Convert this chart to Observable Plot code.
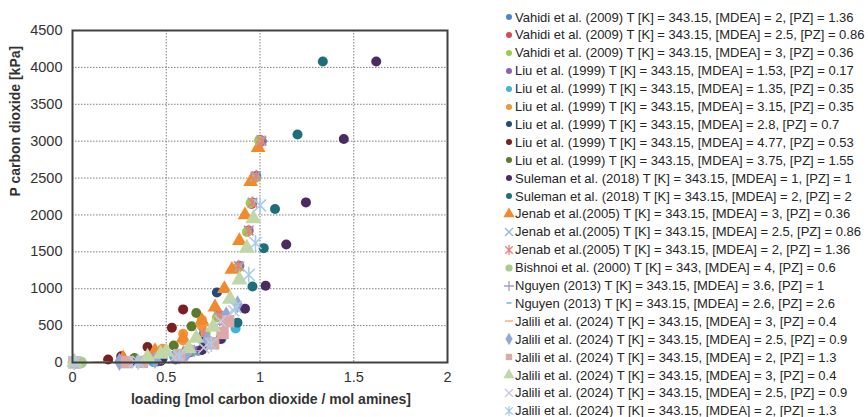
<!DOCTYPE html>
<html><head><meta charset="utf-8">
<script src="https://cdn.jsdelivr.net/npm/d3@7"></script>
<script src="https://cdn.jsdelivr.net/npm/@observablehq/plot@0.6"></script>
<style>
body{margin:0;background:#fff;font-family:"Liberation Sans",Arial,sans-serif;}
#wrap{position:relative;width:868px;height:417px;overflow:hidden;background:#fff;}
#chart{position:absolute;left:0;top:0;}
.row{position:absolute;left:503px;height:18px;display:flex;align-items:center;white-space:nowrap;font-size:13px;color:#262626;}
.row svg{width:12px;height:14px;flex:none;overflow:visible;}
</style></head><body><div id="wrap"><div id="chart"></div><div id="legend"></div></div>
<script>
// ---- data ----
const xTicks = [0, 0.5, 1, 1.5, 2];
const yTicks = [0, 500, 1000, 1500, 2000, 2500, 3000, 3500, 4000, 4500];
const xTickLabels = ["0", "0.5", "1", "1.5", "2"];
const xTitle = "loading [mol carbon dioxide / mol amines]";
const yTitle = "P carbon dioxide [kPa]";

const labels = [
  "Vahidi et al. (2009) T [K] = 343.15, [MDEA] = 2, [PZ] = 1.36",
  "Vahidi et al. (2009) T [K] = 343.15, [MDEA] = 2.5, [PZ] = 0.86",
  "Vahidi et al. (2009) T [K] = 343.15, [MDEA] = 3, [PZ] = 0.36",
  "Liu et al. (1999) T [K] = 343.15, [MDEA] = 1.53, [PZ] = 0.17",
  "Liu et al. (1999) T [K] = 343.15, [MDEA] = 1.35, [PZ] = 0.35",
  "Liu et al. (1999) T [K] = 343.15, [MDEA] = 3.15, [PZ] = 0.35",
  "Liu et al. (1999) T [K] = 343.15, [MDEA] = 2.8, [PZ] = 0.7",
  "Liu et al. (1999) T [K] = 343.15, [MDEA] = 4.77, [PZ] = 0.53",
  "Liu et al. (1999) T [K] = 343.15, [MDEA] = 3.75, [PZ] = 1.55",
  "Suleman et al. (2018) T [K] = 343.15, [MDEA] = 1, [PZ] = 1",
  "Suleman et al. (2018) T [K] = 343.15, [MDEA] = 2, [PZ] = 2",
  "Jenab et al.(2005) T [K] = 343.15, [MDEA] = 3, [PZ] = 0.36",
  "Jenab et al.(2005) T [K] = 343.15, [MDEA] = 2.5, [PZ] = 0.86",
  "Jenab et al.(2005) T [K] = 343.15, [MDEA] = 2, [PZ] = 1.36",
  "Bishnoi et al. (2000) T [K] = 343, [MDEA] = 4, [PZ] = 0.6",
  "Nguyen (2013) T [K] = 343.15, [MDEA] = 3.6, [PZ] = 1",
  "Nguyen (2013) T [K] = 343.15, [MDEA] = 2.6, [PZ] = 2.6",
  "Jalili et al. (2024) T [K] = 343.15, [MDEA] = 3, [PZ] = 0.4",
  "Jalili et al. (2024) T [K] = 343.15, [MDEA] = 2.5, [PZ] = 0.9",
  "Jalili et al. (2024) T [K] = 343.15, [MDEA] = 2, [PZ] = 1.3",
  "Jalili et al. (2024) T [K] = 343.15, [MDEA] = 3, [PZ] = 0.4",
  "Jalili et al. (2024) T [K] = 343.15, [MDEA] = 2.5, [PZ] = 0.9",
  "Jalili et al. (2024) T [K] = 343.15, [MDEA] = 2, [PZ] = 1.3"
];

// [loading, P kPa]
const vahidiA = [[0.27,6],[0.44,35],[0.60,140],[0.70,390],[0.78,640],[0.89,1310],[0.94,1790],[0.96,2170],[0.98,2530],[1.01,3000]];
const vahidiB = [[0.28,7],[0.46,45],[0.62,160],[0.705,380],[0.775,620],[0.885,1290],[0.935,1780],[0.955,2150],[0.97,2510],[1.0,3020]];
const vahidiC = [[0.30,8],[0.48,55],[0.63,175],[0.71,395],[0.77,610],[0.88,1280],[0.93,1770],[0.95,2160],[0.975,2500],[0.995,3010]];
const liuA = [[0.45,12],[0.55,40],[0.63,140],[0.67,160],[0.69,175]];
const liuB = [[0.43,8],[0.54,90],[0.70,210],[0.795,320],[0.87,460]];
const liuC = [[0.26,40],[0.43,150],[0.48,185],[0.59,300],[0.59,390],[0.69,490],[0.69,580]];
const liuD = [[0.32,20],[0.48,55],[0.61,150],[0.70,280],[0.77,950]];
const liuE = [[0.19,40],[0.26,85],[0.40,210],[0.53,470],[0.59,720]];
const liuF = [[0.33,60],[0.45,110],[0.54,230],[0.635,490],[0.66,670]];
const sulemanA = [[0.30,5],[0.47,20],[0.60,95],[0.69,170],[0.79,320],[0.92,730],[1.03,1040],[1.14,1600],[1.245,2170],[1.447,3030],[1.62,4080]];
const sulemanB = [[0.27,5],[0.45,30],[0.60,120],[0.75,270],[0.88,540],[0.96,1030],[1.02,1550],[1.08,2080],[1.2,3090],[1.335,4080]];
const jenabA = [[0.27,60],[0.44,160],[0.59,330],[0.69,570],[0.76,750],[0.81,1000],[0.85,1260],[0.89,1650],[0.92,2000],[0.95,2450],[0.99,2910]];
const jenabB = [[0.29,8],[0.46,48],[0.615,165],[0.70,385],[0.78,630],[0.89,1300],[0.94,1790],[0.96,2160],[0.975,2520],[1.005,3010]];
const jenabC = [[0.27,6],[0.45,40],[0.61,150],[0.70,390],[0.78,640],[0.885,1310],[0.94,1785],[0.96,2170],[0.98,2530],[1.01,3000]];
const bishnoi = [[0.015,0.2],[0.025,0.4],[0.035,0.8],[0.045,1.5]];
const nguyenA = [[0.26,12],[0.40,30],[0.55,90],[0.65,160],[0.72,290],[0.80,520]];
const nguyenB = [[0.42,6],[0.56,35],[0.66,110],[0.74,240]];
const jaliliA = [[0.01,0],[0.14,2],[0.16,4],[0.30,10]];
const jaliliB = [[0.25,8],[0.44,35],[0.61,130],[0.72,310],[0.82,640],[0.88,790]];
const jaliliC = [[0.01,1],[0.29,5],[0.37,8],[0.57,100],[0.75,260],[0.80,400],[0.83,560]];
const jaliliD = [[0.01,5],[0.40,75],[0.47,115],[0.50,145],[0.62,190],[0.66,330],[0.75,480],[0.84,860],[0.89,1120],[0.93,1550],[0.965,1950]];
const jaliliE = [[0.01,2],[0.33,10],[0.54,60],[0.70,200],[0.79,560],[0.86,700]];
const jaliliF = [[0.01,3],[0.35,10],[0.57,80],[0.74,250],[0.87,750],[0.94,1190],[0.976,1620],[1.0,2130]];

const seriesData = [vahidiA, vahidiB, vahidiC, liuA, liuB, liuC, liuD, liuE, liuF,
  sulemanA, sulemanB, jenabA, jenabB, jenabC, bishnoi, nguyenA, nguyenB,
  jaliliA, jaliliB, jaliliC, jaliliD, jaliliE, jaliliF];

// ---- styles ----
const dash = {draw(c, s){const r=Math.sqrt(s/Math.PI); c.moveTo(-r,0); c.lineTo(r,0);}};
const times = {draw(c, s){const r=Math.sqrt(s/Math.PI)*0.8; c.moveTo(-r,-r); c.lineTo(r,r); c.moveTo(-r,r); c.lineTo(r,-r);}};
const plus = {draw(c, s){const r=Math.sqrt(s/Math.PI); c.moveTo(-r,0); c.lineTo(r,0); c.moveTo(0,-r); c.lineTo(0,r);}};
const star = {draw(c, s){const r=Math.sqrt(s/Math.PI); const d=r*0.75; c.moveTo(0,-r); c.lineTo(0,r); c.moveTo(-d,-d); c.lineTo(d,d); c.moveTo(-d,d); c.lineTo(d,-d);}};

const styles = [
  {color:"#4a86d0", sym:"circle", r:5, stroke:false},
  {color:"#d94a4a", sym:"circle", r:5, stroke:false},
  {color:"#9ccc4a", sym:"circle", r:5, stroke:false},
  {color:"#8d5fb5", sym:"circle", r:5, stroke:false},
  {color:"#3fb6d6", sym:"circle", r:5, stroke:false},
  {color:"#f6943a", sym:"circle", r:5, stroke:false},
  {color:"#27497a", sym:"circle", r:5, stroke:false},
  {color:"#7a1f22", sym:"circle", r:5, stroke:false},
  {color:"#5b7b2a", sym:"circle", r:5, stroke:false},
  {color:"#4b2c62", sym:"circle", r:5, stroke:false},
  {color:"#1e6f7b", sym:"circle", r:5, stroke:false},
  {color:"#f28a2c", sym:"triangle", r:5.5, stroke:false},
  {color:"#94b4e0", sym:times, r:6, stroke:true},
  {color:"#e87f7f", sym:star, r:6, stroke:true},
  {color:"#a7cc8c", sym:"circle", r:6, stroke:false},
  {color:"#a59cc9", sym:plus, r:6, stroke:true},
  {color:"#4db1c9", sym:dash, r:4, stroke:true},
  {color:"#f5a06c", sym:dash, r:7, stroke:true},
  {color:"#93a8d6", sym:"diamond", r:5.5, stroke:false},
  {color:"#dba9a9", sym:"square", r:7, stroke:false},
  {color:"#c2d7a8", sym:"triangle", r:6, stroke:false},
  {color:"#c9c5dd", sym:times, r:7, stroke:true},
  {color:"#a8cde9", sym:star, r:8, stroke:true}
];

const dotMarks = seriesData.map((d, i) => {
  const s = styles[i];
  return Plot.dot(d, {
    x: p => p[0], y: p => p[1], r: s.r, symbol: s.sym,
    fill: s.stroke ? "none" : s.color,
    stroke: s.stroke ? s.color : "none",
    strokeWidth: s.stroke ? 1.6 : 0
  });
});

const gridStyle = {stroke:"#7f7f7f", strokeOpacity:1, strokeDasharray:"1.5,1.5", strokeWidth:1};

const chart = Plot.plot({
  width: 868, height: 417,
  marginLeft: 72, marginRight: 421, marginTop: 30, marginBottom: 55,
  x: {domain: [0, 2]},
  y: {domain: [0, 4500]},
  style: {fontFamily: '"Liberation Sans", Arial, sans-serif', fontSize: "14.5px", color: "#333", background: "transparent"},
  marks: [
    Plot.gridX(xTicks.slice(1, -1), gridStyle),
    Plot.gridY(yTicks.slice(1, -1), gridStyle),
    Plot.axisX(xTicks, {tickSize: 0, tickPadding: 9, label: null, tickFormat: (d, i) => xTickLabels[i], fill: "#333"}),
    Plot.axisY(yTicks, {tickSize: 0, tickPadding: 10, label: null, tickFormat: d => String(d), fill: "#333"}),
    ...dotMarks,
    Plot.frame({stroke: "#404040", strokeWidth: 2}),
    Plot.text([xTitle], {frameAnchor: "bottom", dy: 41, dx: 11, fontWeight: "bold", fontSize: 14, fill: "#333"}),
    Plot.text([yTitle], {frameAnchor: "left", dx: -57, rotate: -90, fontWeight: "bold", fontSize: 14, fill: "#333"})
  ]
});
document.getElementById("chart").appendChild(chart);

// ---- legend ----
const legend = document.getElementById("legend");
const legendR = {circle: 3, triangle: 4.2, diamond: 3.8, square: 3.6};
labels.forEach((lab, i) => {
  const s = styles[i];
  const row = document.createElement("div");
  row.className = "row";
  row.style.top = (17 + i * 17.9 - 9) + "px";
  const svg = d3.create("svg").attr("viewBox", "-6 -7 12 14");
  const type = typeof s.sym === "string" ? ({circle: d3.symbolCircle, triangle: d3.symbolTriangle, diamond: d3.symbolDiamond, square: d3.symbolSquare})[s.sym] : s.sym;
  const lr = typeof s.sym === "string" ? (i === 14 ? 3.6 : legendR[s.sym]) : (s.sym === dash ? (i === 16 ? 2.5 : 4) : 5);
  svg.append("path")
    .attr("d", d3.symbol(type, Math.PI * lr * lr)())
    .attr("fill", s.stroke ? "none" : s.color)
    .attr("stroke", s.stroke ? s.color : "none")
    .attr("stroke-width", 1.3);
  row.appendChild(svg.node());
  const t = document.createElement("span");
  t.textContent = lab;
  row.appendChild(t);
  legend.appendChild(row);
});
</script></body></html>
